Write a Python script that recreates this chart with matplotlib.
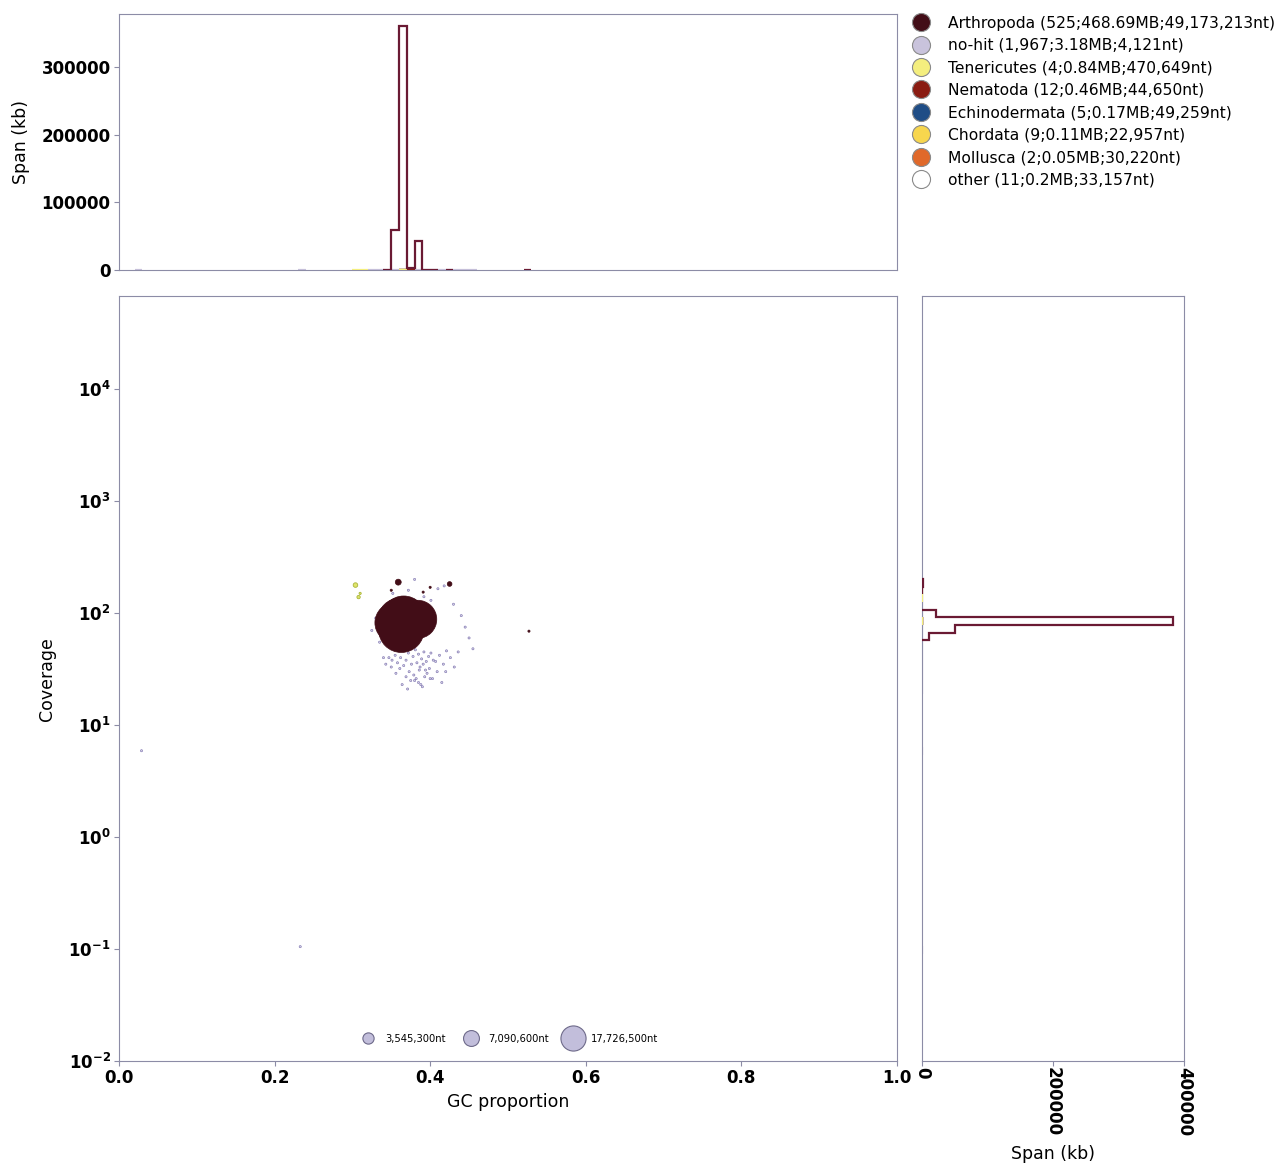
import numpy as np
import matplotlib
matplotlib.use("Agg")
import matplotlib.pyplot as plt
from matplotlib.lines import Line2D

# ---------------------------------------------------------------- taxa
TAXA = ["Arthropoda", "no-hit", "Tenericutes", "Nematoda",
        "Echinodermata", "Chordata", "Mollusca", "other"]
TAXA_COLORS = ["#420d17", "#c9c3dc", "#f4ee7e", "#8a1c12",
               "#1f4d86", "#f7d64e", "#e0692a", "#ffffff"]
LEGEND_LABELS = [
    "Arthropoda (525;468.69MB;49,173,213nt)",
    "no-hit (1,967;3.18MB;4,121nt)",
    "Tenericutes (4;0.84MB;470,649nt)",
    "Nematoda (12;0.46MB;44,650nt)",
    "Echinodermata (5;0.17MB;49,259nt)",
    "Chordata (9;0.11MB;22,957nt)",
    "Mollusca (2;0.05MB;30,220nt)",
    "other (11;0.2MB;33,157nt)",
]

# ---------------------------------------------------------------- contigs
ARTH_GC = [0.365, 0.362, 0.368, 0.366, 0.363, 0.361, 0.369, 0.364, 0.367,
           0.364, 0.366, 0.363, 0.367,
           0.355, 0.353, 0.384, 0.386, 0.374,
           0.359, 0.425, 0.527, 0.391, 0.400, 0.350]
ARTH_COV = [86, 84, 89, 90, 71, 87, 84, 102, 85,
            62, 58, 64, 60,
            82, 80, 88, 80, 76,
            189, 182, 69, 154, 170, 160]
ARTH_LEN = [49173213, 42000000, 42000000, 45000000, 47000000, 43300000,
            30000000, 21500000, 30000000,
            2500000, 2500000, 2500000, 2500000,
            37200000, 20800000, 33000000, 10000000, 3600000,
            800000, 500000, 30000, 60000, 40000, 30000]

NOHIT_GC = [0.372, 0.378, 0.381, 0.385, 0.389, 0.392, 0.395, 0.398, 0.401, 0.404,
            0.376, 0.383, 0.387, 0.391, 0.394, 0.369, 0.366, 0.362, 0.358, 0.355,
            0.351, 0.347, 0.343, 0.373, 0.379, 0.386, 0.393, 0.399, 0.407, 0.412,
            0.417, 0.421, 0.426, 0.431, 0.436, 0.369, 0.375, 0.382, 0.388, 0.396,
            0.361, 0.356, 0.350, 0.364, 0.371, 0.380, 0.390, 0.403, 0.409, 0.415,
            0.345, 0.352, 0.372, 0.380, 0.392, 0.401, 0.410, 0.418, 0.430, 0.440,
            0.445, 0.450, 0.455, 0.330, 0.325, 0.335, 0.340, 0.385, 0.400, 0.420,
            0.029, 0.233]
NOHIT_COV = [44, 41, 47, 43, 39, 45, 37, 41, 44, 38,
             35, 36, 33, 35, 31, 38, 34, 40, 36, 42,
             38, 40, 35, 30, 28, 31, 27, 32, 37, 42,
             35, 46, 40, 33, 45, 27, 25, 26, 23, 29,
             32, 29, 33, 23, 21, 25, 22, 26, 30, 24,
             120, 150, 160, 200, 140, 130, 165, 175, 120, 95,
             75, 60, 48, 90, 70, 55, 40, 24, 26, 30,
             5.9, 0.105]
NOHIT_LEN = [4100, 2300, 5600, 3100, 1800, 6200, 2700, 3900, 1500, 4800,
             2200, 3400, 1900, 5100, 2600, 3300, 1700, 4400, 2900, 3600,
             2100, 5300, 1600, 3800, 2400, 4600, 1900, 3200, 2800, 5900,
             1700, 3500, 2500, 4200, 1800, 3000, 2300, 5000, 1600, 3700,
             2700, 4500, 2000, 3100, 1500, 2600, 4000, 2200, 3400, 1900,
             2500, 3000, 2200, 4100, 1800, 2900, 3600, 5200, 2100, 1700,
             2400, 3300, 1900, 2800, 1600, 2300, 3900, 2000, 2700, 1800,
             2500, 2200]

TENE_GC = [0.304, 0.308, 0.310, 0.366]
TENE_COV = [178, 139, 150, 85]
TENE_LEN = [470649, 250000, 70000, 49000]

NEMA_GC = [0.365, 0.370, 0.360]
NEMA_COV = [85, 88, 80]
NEMA_LEN = [200000, 160000, 100000]

ECHI_GC = [0.366, 0.362]
ECHI_COV = [84, 88]
ECHI_LEN = [100000, 70000]

CHOR_GC = [0.364, 0.368]
CHOR_COV = [86, 82]
CHOR_LEN = [60000, 50000]

MOLL_GC = [0.367]
MOLL_COV = [87]
MOLL_LEN = [50000]

OTHER_GC = [0.363, 0.369]
OTHER_COV = [83, 89]
OTHER_LEN = [120000, 80000]

SIZE_KEY_LEN = [3545300, 7090600, 17726500]
SIZE_KEY_LABELS = ["3,545,300nt", "7,090,600nt", "17,726,500nt"]

GC_TICKS = [0.0, 0.2, 0.4, 0.6, 0.8, 1.0]
SPAN_TICKS_TOP = [0, 100000, 200000, 300000]
SPAN_TICKS_RIGHT = [0, 200000, 400000]

# ---------------------------------------------------------------- styling
SIZE_PER_NT = 2.28e-5      # marker area (pt^2) per nucleotide
MIN_SIZE = 2.5
COV_LOW, COV_HIGH = 1e-2, 10 ** 4.83
GC_BINS = np.linspace(0.0, 1.0, 101)
COV_BINS = np.logspace(np.log10(COV_LOW), np.log10(COV_HIGH), 101)
SPINE_COLOR = "#8c8ca6"

taxon_data = {
    "Arthropoda": (ARTH_GC, ARTH_COV, ARTH_LEN),
    "no-hit": (NOHIT_GC, NOHIT_COV, NOHIT_LEN),
    "Tenericutes": (TENE_GC, TENE_COV, TENE_LEN),
    "Nematoda": (NEMA_GC, NEMA_COV, NEMA_LEN),
    "Echinodermata": (ECHI_GC, ECHI_COV, ECHI_LEN),
    "Chordata": (CHOR_GC, CHOR_COV, CHOR_LEN),
    "Mollusca": (MOLL_GC, MOLL_COV, MOLL_LEN),
    "other": (OTHER_GC, OTHER_COV, OTHER_LEN),
}
color_of = dict(zip(TAXA, TAXA_COLORS))


def span_steps(axis, values, weights, bins, color, z, horizontal=False):
    """Step histogram of span (kb); each run of occupied bins is drawn
    as its own closed outline."""
    counts, edges = np.histogram(values, bins=bins, weights=weights)
    occupied = counts > 0
    i = 0
    n = len(counts)
    while i < n:
        if not occupied[i]:
            i += 1
            continue
        j = i
        while j < n and occupied[j]:
            j += 1
        axis.stairs(counts[i:j], edges[i:j + 1], baseline=0, fill=False,
                    orientation="horizontal" if horizontal else "vertical",
                    color=color, linewidth=1.6, zorder=z)
        i = j


fig = plt.figure(figsize=(12.79, 11.64), dpi=100)
ax = fig.add_axes([0.093, 0.0885, 0.6083, 0.657])
ax_top = fig.add_axes([0.093, 0.768, 0.6083, 0.220])
ax_right = fig.add_axes([0.7209, 0.0885, 0.2049, 0.657])

# draw the small taxa first, Arthropoda on top
draw_order = ["no-hit", "other", "Mollusca", "Chordata", "Echinodermata",
              "Nematoda", "Tenericutes", "Arthropoda"]
for z, name in enumerate(draw_order):
    gc, cov, length = (np.asarray(v, dtype=float) for v in taxon_data[name])
    sizes = np.maximum(length * SIZE_PER_NT, MIN_SIZE)
    col = color_of[name]
    if name == "no-hit":
        ax.scatter(gc, cov, s=sizes, facecolor=col, edgecolor="#5b4f9c",
                   linewidth=0.4, alpha=0.8, zorder=2 + z)
    elif name == "Tenericutes":
        ax.scatter(gc, cov, s=sizes, facecolor="#dfe46a", edgecolor="#a9b43a",
                   linewidth=0.6, zorder=2 + z)
    else:
        ax.scatter(gc, cov, s=sizes, facecolor=col, edgecolor=col,
                   linewidth=0.5, zorder=2 + z)
    hist_col = "#6a1a33" if name == "Arthropoda" else col
    if name == "other":
        hist_col = "#bbbbbb"
    span_steps(ax_top, gc, length / 1000.0, GC_BINS, hist_col, 2 + z)
    span_steps(ax_right, cov, length / 1000.0, COV_BINS, hist_col, 2 + z,
               horizontal=True)

# main axes
ax.set_yscale("log")
ax.set_xlim(0, 1)
ax.set_ylim(COV_LOW, COV_HIGH)
ax.set_xticks(GC_TICKS)
ax.set_xticklabels([f"{t:.1f}" for t in GC_TICKS])
ax.set_xlabel("GC proportion", fontsize=12.5)
ax.set_ylabel("Coverage", fontsize=12.5, labelpad=9)

# size key
key_handles = [Line2D([], [], linestyle="none", marker="o",
                      markersize=np.sqrt(n * SIZE_PER_NT) * 0.9,
                      markerfacecolor="#c2bedb", markeredgecolor="#6e6a8a",
                      markeredgewidth=0.8) for n in SIZE_KEY_LEN]
ax.legend(key_handles, SIZE_KEY_LABELS, loc="lower center", ncol=3,
          frameon=False, fontsize=7.2, handletextpad=0.7, columnspacing=1.5,
          borderaxespad=1.3)

# top histogram
ax_top.set_xlim(0, 1)
ax_top.set_ylim(0, 378000)
ax_top.set_yticks(SPAN_TICKS_TOP)
ax_top.set_yticklabels([str(t) for t in SPAN_TICKS_TOP])
ax_top.set_xticks([])
ax_top.set_ylabel("Span (kb)", fontsize=12.5, labelpad=8.5)

# right histogram
ax_right.set_yscale("log")
ax_right.set_ylim(COV_LOW, COV_HIGH)
ax_right.set_xlim(0, 400000)
ax_right.set_xticks(SPAN_TICKS_RIGHT)
ax_right.set_xticklabels([str(t) for t in SPAN_TICKS_RIGHT], rotation=-90)
ax_right.set_yticks([])
ax_right.minorticks_off()
ax_right.set_xlabel("Span (kb)", fontsize=12.5, labelpad=6)

for a in (ax, ax_top, ax_right):
    for sp in a.spines.values():
        sp.set_color(SPINE_COLOR)
        sp.set_linewidth(0.8)
    a.tick_params(labelsize=12, color=SPINE_COLOR, pad=2.5)
    for lab in a.get_xticklabels() + a.get_yticklabels():
        lab.set_fontweight("bold")
ax.tick_params(which="minor", length=0)
ax_right.tick_params(axis="x", pad=1)

# taxon legend
taxon_handles = [Line2D([], [], linestyle="none", marker="o", markersize=13,
                        markerfacecolor=c, markeredgecolor="#8a8a8a",
                        markeredgewidth=0.8) for c in TAXA_COLORS]
fig.legend(taxon_handles, LEGEND_LABELS, loc="upper left",
           bbox_to_anchor=(0.703, 0.992), frameon=False, fontsize=11.15,
           labelspacing=0.48, handletextpad=0.78, borderaxespad=0.0)

fig.savefig("out.png", dpi=100)
